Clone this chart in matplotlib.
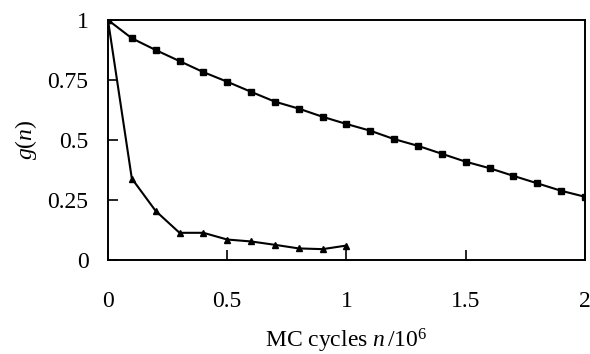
import matplotlib
matplotlib.use('Agg')
import matplotlib.pyplot as plt

plt.rcParams['font.family'] = 'Liberation Serif'
plt.rcParams['mathtext.fontset'] = 'custom'
plt.rcParams['mathtext.rm'] = 'Liberation Serif'
plt.rcParams['mathtext.it'] = 'Liberation Serif:italic'

# MC cycles (units of 10^6)
n_slow = [0.0, 0.1, 0.2, 0.3, 0.4, 0.5, 0.6, 0.7, 0.8, 0.9, 1.0,
          1.1, 1.2, 1.3, 1.4, 1.5, 1.6, 1.7, 1.8, 1.9, 2.0]
g_slow = [1.0, 0.924, 0.875, 0.829, 0.783, 0.743, 0.701, 0.66, 0.631, 0.597, 0.567,
          0.539, 0.504, 0.476, 0.443, 0.41, 0.383, 0.351, 0.32, 0.289, 0.264]

n_fast = [0.0, 0.1, 0.2, 0.3, 0.4, 0.5, 0.6, 0.7, 0.8, 0.9, 1.0]
g_fast = [1.0, 0.34, 0.205, 0.114, 0.114, 0.086, 0.078, 0.064, 0.049, 0.046, 0.061]

xticks = [0, 0.5, 1, 1.5, 2]
xticklabels = ['0', '0.5', '1', '1.5', '2']
yticks = [0, 0.25, 0.5, 0.75, 1]
yticklabels = ['0', '0.25', '0.5', '0.75', '1']

fig = plt.figure(figsize=(5.9, 3.54), dpi=100)
ax = fig.add_axes([0.183, 0.265, 0.8085, 0.6785])

ax.plot(n_slow, g_slow, color='black', lw=1.5, marker='s', ms=4.6, mfc='black', mec='black')
ax.plot(n_fast, g_fast, color='black', lw=1.5, marker='^', ms=4.4, mfc='black', mec='black')

ax.set_xlim(0, 2)
ax.set_ylim(0, 1)
ax.set_xticks(xticks)
ax.set_xticklabels(xticklabels)
ax.set_yticks(yticks)
ax.set_yticklabels(yticklabels)
ax.tick_params(axis='both', direction='in', length=7, width=1.2, labelsize=17,
               top=False, right=False)
ax.tick_params(axis='x', pad=22)
ax.tick_params(axis='y', pad=14)
for s in ax.spines.values():
    s.set_linewidth(1.4)

ax.set_xlabel(r'MC cycles $n\,/10^6$', fontsize=17, labelpad=11)
ax.set_ylabel(r'$g(n)$', fontsize=17, labelpad=6)

fig.savefig('out.png', dpi=100)
plt.close(fig)
